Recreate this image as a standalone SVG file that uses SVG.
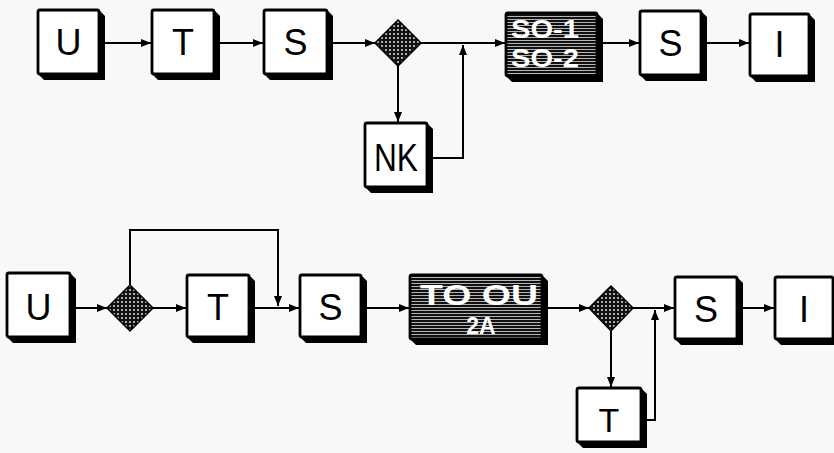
<svg xmlns="http://www.w3.org/2000/svg" width="834" height="453" viewBox="0 0 834 453">
<defs>
<pattern id="grid" width="4" height="4" patternUnits="userSpaceOnUse">
<rect width="4" height="4" fill="#111"/>
<rect x="1.2" y="1.2" width="1.6" height="1.6" fill="#fff"/>
</pattern>
<pattern id="lines" width="4" height="3" patternUnits="userSpaceOnUse">
<rect width="4" height="3" fill="#111"/>
<rect y="1" width="4" height="0.9" fill="#c8c8c8"/>
</pattern>
<marker id="arr" viewBox="0 0 10 8" refX="10" refY="4" markerWidth="10" markerHeight="8" markerUnits="userSpaceOnUse" orient="auto">
<path d="M0,0 L10,4 L0,8 Z" fill="#000"/>
</marker>
</defs>
<style>
.sh{fill:#000}
.fr{fill:#fff;stroke:#000;stroke-width:2.8}
.dk{fill:url(#lines);stroke:#000;stroke-width:2.8}
.dm{fill:url(#grid);stroke:#000;stroke-width:1.5}
.t{font-family:"Liberation Sans",Arial,sans-serif;font-size:36px;text-anchor:middle;fill:#000}
.w{font-family:"Liberation Sans",Arial,sans-serif;font-weight:bold;text-anchor:middle;fill:#fff}
.c{fill:none;stroke:#000;stroke-width:2}
</style>
<rect width="834" height="453" fill="#f8f8f8"/>

<g id="connectors">
<line class="c" x1="99" y1="43" x2="151" y2="43" marker-end="url(#arr)"/>
<line class="c" x1="214" y1="43" x2="263" y2="43" marker-end="url(#arr)"/>
<line class="c" x1="327" y1="43" x2="375" y2="43" marker-end="url(#arr)"/>
<line class="c" x1="421" y1="43" x2="505" y2="43" marker-end="url(#arr)"/>
<line class="c" x1="597" y1="43" x2="639" y2="43" marker-end="url(#arr)"/>
<line class="c" x1="701" y1="43" x2="749" y2="43" marker-end="url(#arr)"/>
<line class="c" x1="398" y1="66" x2="398" y2="122" marker-end="url(#arr)"/>
<polyline class="c" points="427,158 463,158 463,45" marker-end="url(#arr)"/>

<line class="c" x1="70" y1="308" x2="107" y2="308" marker-end="url(#arr)"/>
<line class="c" x1="153" y1="308" x2="186" y2="308" marker-end="url(#arr)"/>
<line class="c" x1="249" y1="308" x2="299" y2="308" marker-end="url(#arr)"/>
<polyline class="c" points="130,285 130,230 278,230 278,306" marker-end="url(#arr)"/>
<line class="c" x1="361" y1="308" x2="409" y2="308" marker-end="url(#arr)"/>
<line class="c" x1="542" y1="308" x2="589" y2="308" marker-end="url(#arr)"/>
<line class="c" x1="633" y1="308" x2="674" y2="308" marker-end="url(#arr)"/>
<line class="c" x1="737" y1="308" x2="774" y2="308" marker-end="url(#arr)"/>
<line class="c" x1="611" y1="331" x2="611" y2="387" marker-end="url(#arr)"/>
<polyline class="c" points="641,420 655,420 655,310" marker-end="url(#arr)"/>
</g>

<g id="u1"><path class="sh" d="M99,10 L105,16 L105,80 L44,80 L38,74 Z"/><rect class="fr" x="38" y="10" width="61" height="64" rx="2"/><text class="t" x="68.5" y="55">U</text></g>
<g id="t1"><path class="sh" d="M214,10 L220,16 L220,80 L158,80 L152,74 Z"/><rect class="fr" x="152" y="10" width="62" height="64" rx="2"/><text class="t" x="183" y="55">T</text></g>
<g id="s1"><path class="sh" d="M327,10 L333,16 L333,80 L270,80 L264,74 Z"/><rect class="fr" x="264" y="10" width="63" height="64" rx="2"/><text class="t" x="295.5" y="55">S</text></g>
<g id="d1"><polygon class="dm" points="398,20 421,43 398,66 375,43"/></g>
<g id="nk"><path class="sh" d="M427,123 L433,129 L433,193 L371,193 L365,187 Z"/><rect class="fr" x="365" y="123" width="62" height="64" rx="2"/><text class="t" x="396" y="171" textLength="44" lengthAdjust="spacingAndGlyphs" style="font-size:38px">NK</text></g>
<g id="so"><path class="sh" d="M597,13 L603,19 L603,82 L512,82 L506,76 Z"/><rect class="dk" x="506" y="13" width="91" height="63" rx="2"/><text class="w" x="545" y="38" style="font-size:26px" textLength="68" lengthAdjust="spacingAndGlyphs">SO-1</text><text class="w" x="545" y="67" style="font-size:26px" textLength="68" lengthAdjust="spacingAndGlyphs">SO-2</text></g>
<g id="s2"><path class="sh" d="M701,11 L707,17 L707,81 L646,81 L640,75 Z"/><rect class="fr" x="640" y="11" width="61" height="64" rx="2"/><text class="t" x="670.5" y="56">S</text></g>
<g id="i1"><path class="sh" d="M809,14 L815,20 L815,82 L756,82 L750,76 Z"/><rect class="fr" x="750" y="14" width="59" height="62" rx="2"/><text class="t" x="779.5" y="57">I</text></g>

<g id="u2"><path class="sh" d="M70,273 L76,279 L76,343 L13,343 L7,337 Z"/><rect class="fr" x="7" y="273" width="63" height="64" rx="2"/><text class="t" x="38.5" y="320">U</text></g>
<g id="d2"><polygon class="dm" points="130,285 153,308 130,331 107,308"/></g>
<g id="t2"><path class="sh" d="M249,275 L255,281 L255,343 L193,343 L187,337 Z"/><rect class="fr" x="187" y="275" width="62" height="62" rx="2"/><text class="t" x="218" y="320">T</text></g>
<g id="s3"><path class="sh" d="M361,275 L367,281 L367,343 L306,343 L300,337 Z"/><rect class="fr" x="300" y="275" width="61" height="62" rx="2"/><text class="t" x="330.5" y="320">S</text></g>
<g id="to"><path class="sh" d="M542,275 L548,281 L548,345 L416,345 L410,339 Z"/><rect class="dk" x="410" y="275" width="132" height="64" rx="2"/><text class="w" x="479" y="305" style="font-size:30px" textLength="118" lengthAdjust="spacingAndGlyphs">TO OU</text><text class="w" x="481" y="334" style="font-size:23px">2A</text></g>
<g id="d3"><polygon class="dm" points="611,286 633,308 611,331 589,308"/></g>
<g id="s4"><path class="sh" d="M737,277 L743,283 L743,345 L681,345 L675,339 Z"/><rect class="fr" x="675" y="277" width="62" height="62" rx="2"/><text class="t" x="706" y="322">S</text></g>
<g id="i2"><path class="sh" d="M833,277 L839,283 L839,345 L781,345 L775,339 Z"/><rect class="fr" x="775" y="277" width="58" height="62" rx="2"/><text class="t" x="804" y="322">I</text></g>
<g id="t3"><path class="sh" d="M641,388 L647,394 L647,448 L583,448 L577,442 Z"/><rect class="fr" x="577" y="388" width="64" height="54" rx="2"/><text class="t" x="609" y="432" style="font-size:34px">T</text></g>
</svg>
